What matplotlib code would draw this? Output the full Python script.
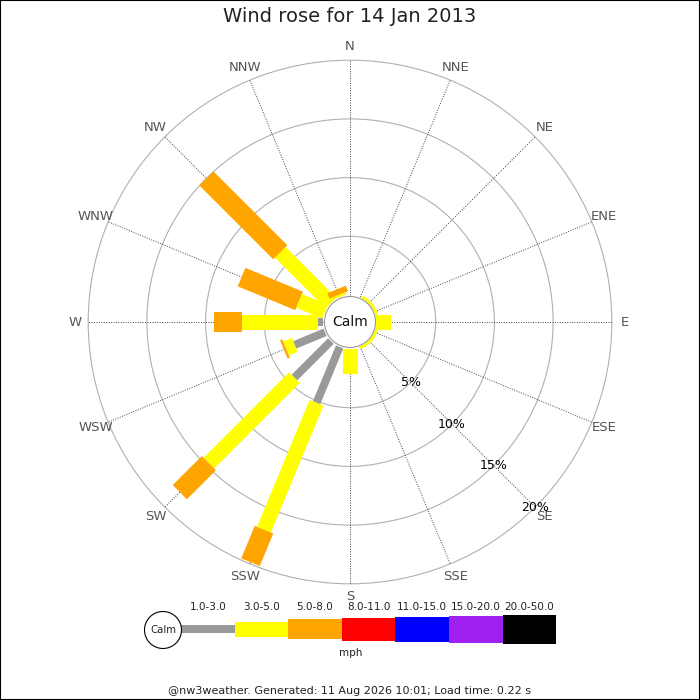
import numpy as np
import matplotlib
matplotlib.use("Agg")
import matplotlib.pyplot as plt
from matplotlib.patches import Circle, Polygon, Rectangle, Wedge

# wind data (% of time) per direction and speed band
directions = ["N", "NNE", "NE", "ENE", "E", "ESE", "SE", "SSE",
              "S", "SSW", "SW", "WSW", "W", "WNW", "NW", "NNW"]
pct_1_3 = [0, 0, 0, 0, 0, 0, 0, 0, 0, 5.15, 4.4, 2.8, 0.4, 0, 0, 0]
pct_3_5 = [0, 0, 0, 0, 1.2, 0, 0, 0, 2.1, 11.7, 10.3, 0.8, 6.5, 2.4, 6.1, 0.2]
pct_5_8 = [0, 0, 0, 0, 0, 0, 0, 0, 0, 3.0, 3.5, 0.2, 2.4, 5.3, 8.9, 0.5]
speed_bands = ["1.0-3.0", "3.0-5.0", "5.0-8.0", "8.0-11.0",
               "11.0-15.0", "15.0-20.0", "20.0-50.0"]
ring_pcts = [5, 10, 15, 20]
title = "Wind rose for 14 Jan 2013"
footer = "@nw3weather. Generated: 11 Aug 2026 10:01; Load time: 0.22 s"

band_colors = ["#999999", "#ffff00", "#ffa500", "#ff0000", "#0000ff", "#a020f0", "#000000"]
band_px = [8, 15, 20, 23, 25, 27, 29]

S = 11.74          # pixels per percent
R0 = 27 / S        # bars start at the calm circle
CX, CY = 350, 322  # centre in pixels

fig = plt.figure(figsize=(7, 7), dpi=100)
ax = fig.add_axes([0, 0, 1, 1])
ax.set_xlim(-CX / S, (700 - CX) / S)
ax.set_ylim(-(700 - CY) / S, CY / S)
ax.axis("off")

angles = np.deg2rad(np.arange(16) * 22.5)
r_out = R0 + ring_pcts[-1]

# rings and spokes
for p in ring_pcts:
    ax.add_patch(Circle((0, 0), R0 + p, fill=False, ec="#b0b0b0", lw=0.8, zorder=1))
for th in angles:
    ax.plot([R0 * np.sin(th), r_out * np.sin(th)],
            [R0 * np.cos(th), r_out * np.cos(th)],
            ls=(0, (1, 1.5)), color="#444444", lw=0.7, zorder=1)

# direction labels
for th, name in zip(angles, directions):
    r = 275 / S
    ax.text(r * np.sin(th), r * np.cos(th), name, ha="center", va="center",
            fontsize=9.5, color="#555555")

# stacked bars
bands = [pct_1_3, pct_3_5, pct_5_8]
for i, th in enumerate(angles):
    u = np.array([np.sin(th), np.cos(th)])
    p = np.array([np.cos(th), -np.sin(th)])
    start = R0
    for b, vals in enumerate(bands):
        v = vals[i]
        if v <= 0:
            continue
        h = band_px[b] / S / 2
        end = start + v
        pts = [start * u + h * p, end * u + h * p, end * u - h * p, start * u - h * p]
        ax.add_patch(Polygon(pts, closed=True, fc=band_colors[b], ec="none", zorder=2 + b))
        start = end

# thin trace of light winds hugging the calm circle on the east side
ax.add_patch(Wedge((0, 0), R0 + 0.18, -70, 64, width=0.25, fc="#ffff00", ec="none", zorder=6))

# calm circle
ax.add_patch(Circle((0, 0), 25.5 / S, fc="white", ec="#999999", lw=0.8, zorder=7))
ax.text(0, 0, "Calm", ha="center", va="center", fontsize=10, color="#111111", zorder=8)

# percentage labels along SE
for p in ring_pcts:
    r = R0 + p
    ax.text(r * np.sin(np.pi * 0.75), r * np.cos(np.pi * 0.75), f"{p}%",
            ha="center", va="center", fontsize=9, color="black", zorder=8)

# legend / title / footer in pixel coordinates
lax = fig.add_axes([0, 0, 1, 1])
lax.set_xlim(0, 700)
lax.set_ylim(700, 0)
lax.axis("off")
lax.patch.set_alpha(0)

lax.text(350, 17, title, ha="center", va="center", fontsize=14, color="#222222")

lx0, seg_w, ly = 181, 53.6, 629
for k, (lab, col, hpx) in enumerate(zip(speed_bands, band_colors, band_px)):
    x = lx0 + k * seg_w
    lax.add_patch(Rectangle((x, ly - hpx / 2), seg_w, hpx, fc=col, ec="none"))
    lax.text(x + seg_w / 2, 607, lab, ha="center", va="center", fontsize=7.5, color="#222222")
lax.add_patch(Circle((163, 630), 18.5, fc="white", ec="black", lw=0.8))
lax.text(163, 630, "Calm", ha="center", va="center", fontsize=7.3, color="#222222")
lax.text(351, 653, "mph", ha="center", va="center", fontsize=7.5, color="#222222")
lax.text(350, 691, footer, ha="center", va="center", fontsize=8, color="#222222")

fig.add_artist(Rectangle((0, 0), 1, 1, transform=fig.transFigure, fill=False,
                         ec="black", lw=1.5))

fig.savefig("out.png", dpi=100)
